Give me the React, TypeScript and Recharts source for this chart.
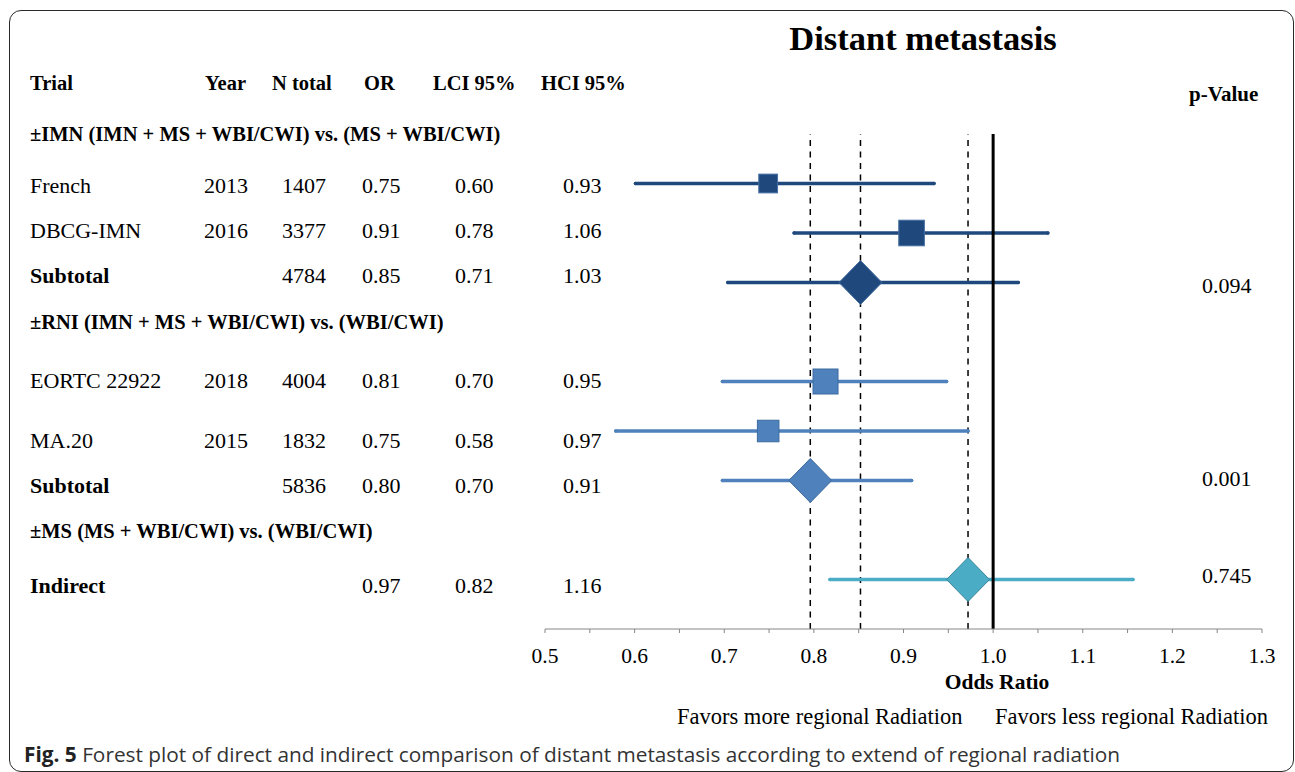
import React from "react";
import {
  ScatterChart,
  Scatter,
  XAxis,
  YAxis,
  ErrorBar,
  ReferenceLine,
} from "recharts";

// ---- data ----
const trialNames = [
  "French",
  "DBCG-IMN",
  "Subtotal",
  "EORTC 22922",
  "MA.20",
  "Subtotal",
  "Indirect",
];
const years = ["2013", "2016", "", "2018", "2015", "", ""];
const nTotals = ["1407", "3377", "4784", "4004", "1832", "5836", ""];
const orText = ["0.75", "0.91", "0.85", "0.81", "0.75", "0.80", "0.97"];
const lciText = ["0.60", "0.78", "0.71", "0.70", "0.58", "0.70", "0.82"];
const hciText = ["0.93", "1.06", "1.03", "0.95", "0.97", "0.91", "1.16"];

// plotted estimates (unrounded, as drawn)
const orPlot = [0.749, 0.909, 0.852, 0.813, 0.749, 0.796, 0.972];
const lciPlot = [0.601, 0.778, 0.704, 0.698, 0.579, 0.698, 0.818];
const hciPlot = [0.934, 1.061, 1.028, 0.948, 0.972, 0.909, 1.156];
const rowPos = [1, 2, 3, 5, 6, 7, 9];
const groups = ["imn", "imn", "imn", "rni", "rni", "rni", "ms"];
const isPooled = [false, false, true, false, false, true, true];
const weights = [22, 41, 0, 39, 29, 0, 0];

const groupHeaders = [
  "±IMN (IMN + MS + WBI/CWI) vs. (MS + WBI/CWI)",
  "±RNI (IMN + MS + WBI/CWI) vs. (WBI/CWI)",
  "±MS (MS + WBI/CWI) vs. (WBI/CWI)",
];
const pValues = ["0.094", "0.001", "0.745"];
const columnHeaders = ["Trial", "Year", "N total", "OR", "LCI 95%", "HCI 95%"];

const majorTicks = [0.5, 0.6, 0.7, 0.8, 0.9, 1.0, 1.1, 1.2, 1.3];
const minorTicks = [0.55, 0.65, 0.75, 0.85, 0.95, 1.05, 1.15, 1.25];

// ---- layout ----
const W = 1295;
const H = 772;
const serif = '"Liberation Serif", "Times New Roman", serif';
const sans = '"Open Sans", "Noto Sans", sans-serif';

const headerX = [30, 205, 272, 364, 433, 541];
const colX = [30, 204, 282, 362, 455, 563];
const rowTextY = [186, 231, 276, 381, 441, 486, 586];
const groupHeaderY = [134, 322, 531];
const pValueY = [286, 479, 576];

const palette: Record<string, { fill: string; edge: string }> = {
  imn: { fill: "#1F497D", edge: "#4570A3" },
  rni: { fill: "#4F81BD", edge: "#3A6A9E" },
  ms: { fill: "#4BACC6", edge: "#3A8499" },
};

const rows = trialNames.map((name, i) => ({
  name,
  x: orPlot[i],
  y: rowPos[i],
  err: [orPlot[i] - lciPlot[i], hciPlot[i] - orPlot[i]],
  pooled: isPooled[i],
  weight: weights[i],
  group: groups[i],
}));

const axisTicks = [...majorTicks, ...minorTicks].sort((a, b) => a - b);
const fmtTick = (v: number) =>
  majorTicks.some((m) => Math.abs(m - v) < 1e-9) ? v.toFixed(1) : "";

function Marker(props: any) {
  const { cx, cy, payload, fill, stroke } = props;
  if (cx == null || cy == null) return null;
  if (payload.pooled) {
    const hw = 21.5;
    const hh = 22;
    const pts = `${cx},${cy - hh} ${cx + hw},${cy} ${cx},${cy + hh} ${cx - hw},${cy}`;
    return <polygon points={pts} fill={fill} stroke={stroke} strokeWidth={1} />;
  }
  const s = 4 * Math.sqrt(payload.weight);
  return (
    <rect
      x={cx - s / 2}
      y={cy - s / 2}
      width={s}
      height={s}
      fill={fill}
      stroke={stroke}
      strokeWidth={1}
    />
  );
}

function Txt({
  x,
  y,
  children,
  bold,
  size = 22,
  center,
  font = serif,
  color = "#000",
}: {
  x: number;
  y: number;
  children: React.ReactNode;
  bold?: boolean;
  size?: number;
  center?: boolean;
  font?: string;
  color?: string;
}) {
  return (
    <div
      style={{
        position: "absolute",
        left: x,
        top: y,
        transform: center ? "translate(-50%, -50%)" : "translateY(-50%)",
        fontFamily: font,
        fontSize: size,
        fontWeight: bold ? 700 : 400,
        lineHeight: 1,
        whiteSpace: "nowrap",
        color,
      }}
    >
      {children}
    </div>
  );
}

export default function App() {
  const groupKeys = ["imn", "rni", "ms"];
  return (
    <div
      style={{
        position: "absolute",
        left: 0,
        top: 0,
        width: W,
        height: H,
        background: "#fff",
        overflow: "hidden",
      }}
    >
      <div
        style={{
          position: "absolute",
          left: 9,
          top: 10,
          width: 1285,
          height: 762,
          border: "1.5px solid #2a2a2a",
          borderRadius: 12,
          boxSizing: "border-box",
        }}
      />
      <div style={{ position: "absolute", left: 0, top: 0 }}>
        <ScatterChart
          width={W}
          height={H}
          margin={{ top: 134, right: 33, bottom: 103, left: 545 }}
        >
          <XAxis
            type="number"
            dataKey="x"
            domain={[0.5, 1.3]}
            ticks={axisTicks}
            interval={0}
            tickFormatter={fmtTick}
            allowDataOverflow
            tickSize={4}
            tickMargin={15}
            height={40}
            axisLine={{ stroke: "#868686" }}
            tickLine={{ stroke: "#868686" }}
            tick={{ fill: "#000", fontSize: 21.5, fontFamily: serif }}
          />
          <YAxis type="number" dataKey="y" domain={[0, 10]} reversed hide width={0} />
          {rows
            .filter((r) => r.pooled)
            .map((r, i) => (
              <ReferenceLine
                key={"ref" + i}
                x={r.x}
                stroke="#000"
                strokeWidth={1.5}
                strokeDasharray="6 5.5"
              />
            ))}
          {groupKeys.map((g) => (
            <Scatter
              key={g}
              data={rows.filter((r) => r.group === g)}
              fill={palette[g].fill}
              stroke={palette[g].edge}
              shape={Marker}
              isAnimationActive={false}
            >
              <ErrorBar
                dataKey="err"
                direction="x"
                width={0}
                stroke={palette[g].fill}
                strokeWidth={3.5}
                strokeLinecap="round"
                isAnimationActive={false}
              />
            </Scatter>
          ))}
          <ReferenceLine x={1} stroke="#000" strokeWidth={3} />
        </ScatterChart>
      </div>

      <Txt x={923} y={38} bold size={34.5} center>
        Distant metastasis
      </Txt>
      {columnHeaders.map((h, i) => (
        <Txt key={h} x={headerX[i]} y={83} bold size={20.5}>
          {h}
        </Txt>
      ))}
      <Txt x={1189} y={94} bold size={21}>
        p-Value
      </Txt>
      {groupHeaders.map((h, i) => (
        <Txt key={h} x={30} y={groupHeaderY[i]} bold size={20.5}>
          {h}
        </Txt>
      ))}
      {trialNames.map((name, i) => (
        <React.Fragment key={"row" + i}>
          <Txt x={colX[0]} y={rowTextY[i]} bold={isPooled[i]}>
            {name}
          </Txt>
          <Txt x={colX[1]} y={rowTextY[i]}>{years[i]}</Txt>
          <Txt x={colX[2]} y={rowTextY[i]}>{nTotals[i]}</Txt>
          <Txt x={colX[3]} y={rowTextY[i]}>{orText[i]}</Txt>
          <Txt x={colX[4]} y={rowTextY[i]}>{lciText[i]}</Txt>
          <Txt x={colX[5]} y={rowTextY[i]}>{hciText[i]}</Txt>
        </React.Fragment>
      ))}
      {pValues.map((p, i) => (
        <Txt key={"p" + i} x={1202} y={pValueY[i]}>
          {p}
        </Txt>
      ))}
      <Txt x={997} y={683} bold size={21.5} center>
        Odds Ratio
      </Txt>
      <Txt x={677} y={717} size={22.5}>
        Favors more regional Radiation
      </Txt>
      <Txt x={995} y={717} size={22.5}>
        Favors less regional Radiation
      </Txt>
      <Txt x={24} y={754} size={20.8} font={sans} color="#333">
        <b style={{ color: "#222" }}>Fig. 5</b> Forest plot of direct and indirect
        comparison of distant metastasis according to extend of regional radiation
      </Txt>
    </div>
  );
}
